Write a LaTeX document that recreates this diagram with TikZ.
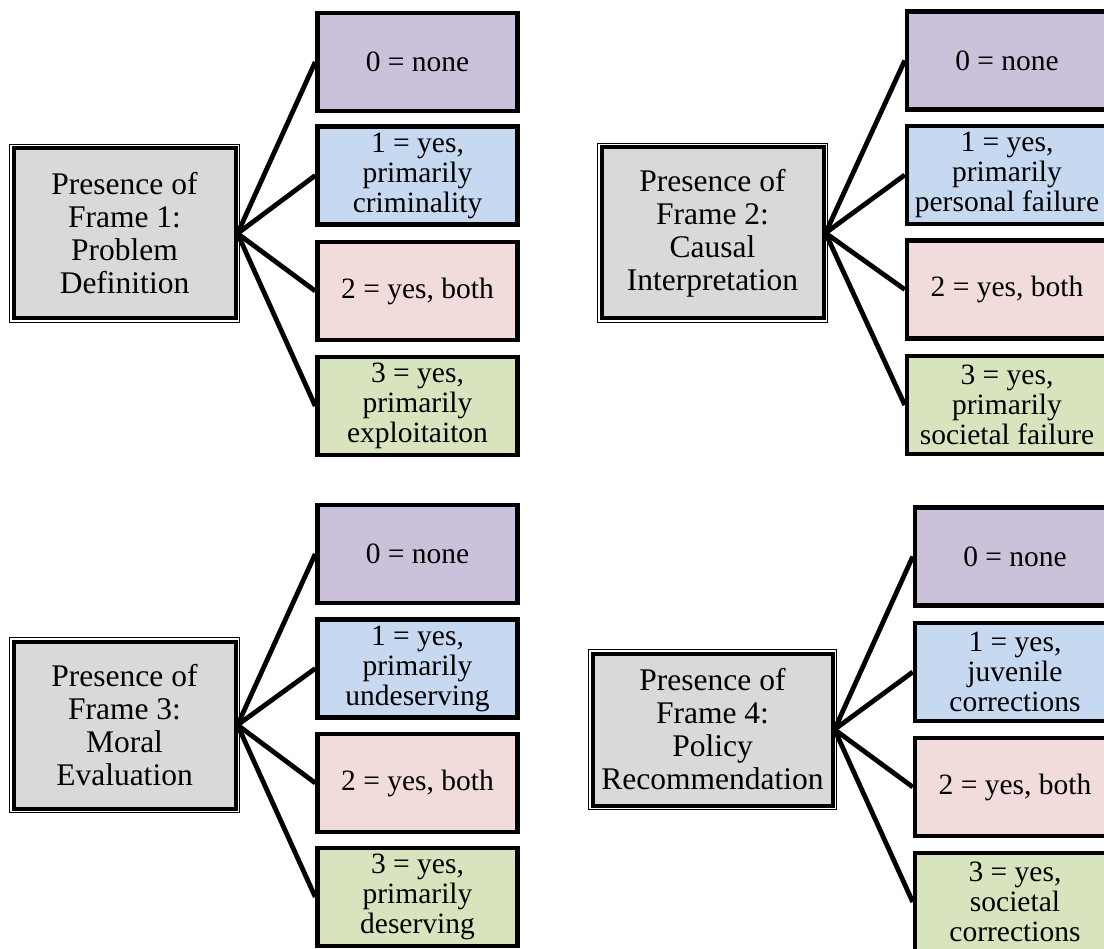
\documentclass[tikz,border=0pt]{standalone}
\usepackage{fontspec}
\setmainfont{Liberation Serif}
\usetikzlibrary{positioning}

\definecolor{framegray}{HTML}{D9D9D9}
\definecolor{nonecol}{HTML}{CCC1DA}
\definecolor{onecol}{HTML}{C6D9F1}
\definecolor{bothcol}{HTML}{F2DCDB}
\definecolor{threecol}{HTML}{D7E4BD}

\begin{document}
\begin{tikzpicture}[x=1pt,y=-1pt,
    framebox/.style={fill=framegray,draw,line width=4pt,
        preaction={draw,line width=8.5pt},
        preaction={draw,white,line width=6.5pt},
        minimum width=222pt,inner sep=1pt,align=center,
        font=\fontsize{31.5}{33}\selectfont},
    codebox/.style={draw,line width=4.5pt,minimum width=200pt,
        minimum height=98pt,inner sep=1pt,align=center,
        font=\fontsize{29.5}{30}\selectfont},
    link/.style={line width=4.8pt}]

\useasboundingbox (0,0) rectangle (1104,949);

% frame 1
\node[framebox,minimum height=170pt] (f1) at (124.5,233.5)
    {Presence of\\Frame 1:\\Problem\\Definition};
\node[codebox,fill=nonecol] (f1a) at (417.5,62) {0 = none};
\node[codebox,fill=onecol] (f1b) at (417.5,175.5) {1 = yes,\\primarily\\criminality};
\node[codebox,fill=bothcol] (f1c) at (417.5,291) {2 = yes, both};
\node[codebox,fill=threecol] (f1d) at (417.5,406) {3 = yes,\\primarily\\exploitaiton};

% frame 2
\node[framebox,minimum height=171pt] (f2) at (712.5,233)
    {Presence of\\Frame 2:\\Causal\\Interpretation};
\node[codebox,fill=nonecol] (f2a) at (1007,60.5) {0 = none};
\node[codebox,fill=onecol] (f2b) at (1007,175) {1 = yes,\\primarily\\personal failure};
\node[codebox,fill=bothcol] (f2c) at (1007,289.5) {2 = yes, both};
\node[codebox,fill=threecol] (f2d) at (1007,405) {3 = yes,\\primarily\\societal failure};

% frame 3
\node[framebox,minimum height=167pt] (f3) at (124.5,725)
    {Presence of\\Frame 3:\\Moral\\Evaluation};
\node[codebox,fill=nonecol] (f3a) at (417.5,554) {0 = none};
\node[codebox,fill=onecol] (f3b) at (417.5,668.5) {1 = yes,\\primarily\\undeserving};
\node[codebox,fill=bothcol] (f3c) at (417.5,783) {2 = yes, both};
\node[codebox,fill=threecol] (f3d) at (417.5,897) {3 = yes,\\primarily\\deserving};

% frame 4
\node[framebox,minimum width=240pt,minimum height=152pt] (f4) at (712.5,729.5)
    {Presence of\\Frame 4:\\Policy\\Recommendation};
\node[codebox,fill=nonecol] (f4a) at (1015,556.5) {0 = none};
\node[codebox,fill=onecol] (f4b) at (1015,672) {1 = yes,\\juvenile\\corrections};
\node[codebox,fill=bothcol] (f4c) at (1015,787) {2 = yes, both};
\node[codebox,fill=threecol] (f4d) at (1015,902) {3 = yes,\\societal\\corrections};

\foreach \f in {f1,f2,f3,f4}
  \foreach \c in {a,b,c,d}
    \draw[link] (\f.east) -- (\f\c.west);

\end{tikzpicture}
\end{document}
